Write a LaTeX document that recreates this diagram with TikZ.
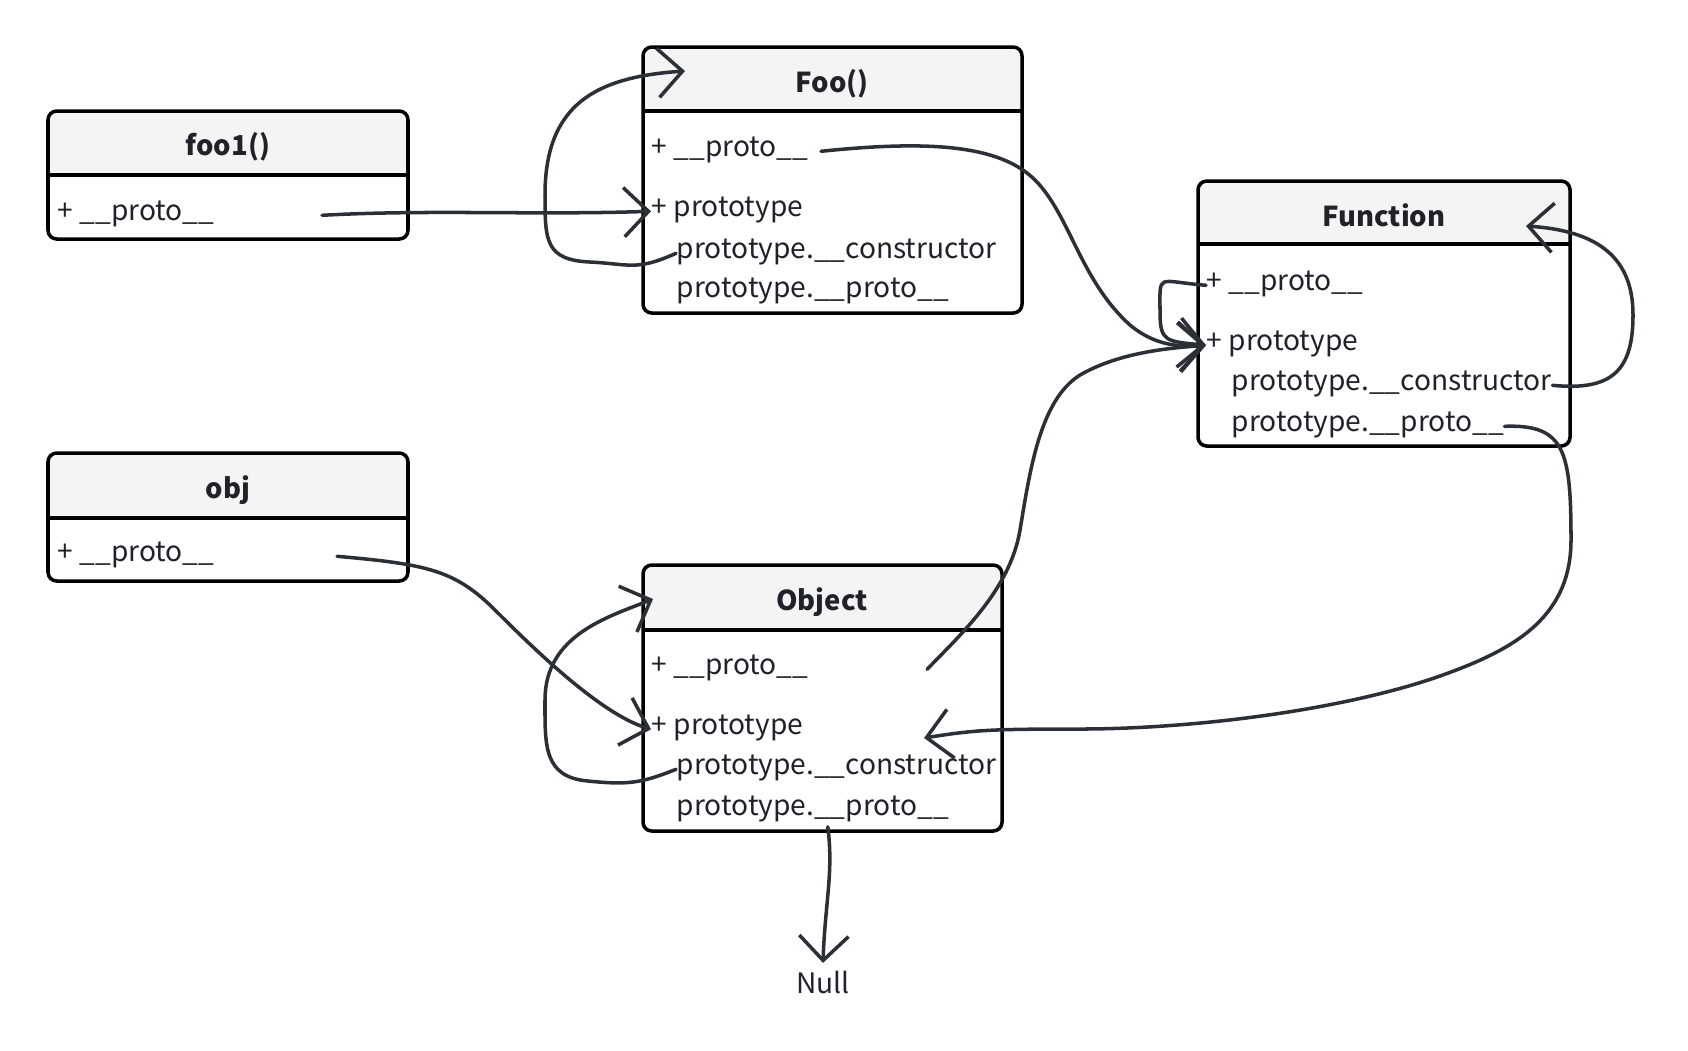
\documentclass[tikz,border=0pt]{standalone}
\usepackage{fontspec}
\setmainfont{Noto Sans CJK SC}
\usepackage{tikz}
\usetikzlibrary{arrows.meta, calc, positioning}
\definecolor{inkline}{HTML}{2B2F36}
\definecolor{headgray}{HTML}{F4F4F4}
\definecolor{textdark}{HTML}{1F2329}
\tikzset{
    boxline/.style={draw=black, line width=1pt, rounded corners=2.5pt},
    divider/.style={draw=black, line width=1pt},
    title/.style={yshift=-0.5pt, font=\fontsize{7.8}{10}\selectfont\bfseries, text=textdark, inner sep=0pt},
    row/.style={anchor=west, yshift=-1.5pt, font=\fontsize{8}{10}\selectfont, text=textdark, inner sep=0pt, text height=6pt, text depth=3pt},
    link/.style={draw=inkline, line width=1pt, line cap=round, -{Straight Barb[length=7pt, width=14pt, line width=1pt]}}
}
% riquadro di classe: x1, y1, x2, y2, y della riga di separazione
\newcommand{\classbox}[5]{%
    \begin{scope}
        \clip[rounded corners=2.5pt] (#1,#2) rectangle (#3,#4);
        \fill[headgray] (#1,#2) rectangle (#3,#5);
    \end{scope}
    \draw[divider] (#1,#5) -- (#3,#5);
    \draw[boxline] (#1,#2) rectangle (#3,#4);
}

\begin{document}
\begin{tikzpicture}[x=0.01cm, y=-0.01cm]
        \useasboundingbox (0,0) rectangle (1688,1050);

        % -----------------------------------------------------------------
        % foo1()
        % -----------------------------------------------------------------
        \classbox{48}{111}{408}{239}{175}
        \node[title] (foo1title) at (228,145) {foo1()};
        \node[row] (foo1proto) at (57,210) {+ \_\_proto\_\_};

        % -----------------------------------------------------------------
        % Foo()
        % -----------------------------------------------------------------
        \classbox{643}{47}{1022}{313}{111}
        \node[title] (Footitle) at (832,82) {Foo()};
        \node[row] (Fooproto) at (651,146) {+ \_\_proto\_\_};
        \node[row] (Fooptype) at (651,206) {+ prototype};
        \node[row] (Fooctor) at (676,248) {prototype.\_\_constructor};
        \node[row] (Fooptproto) at (676,287) {prototype.\_\_proto\_\_};
        \coordinate (Foohook) at (685,71);

        % -----------------------------------------------------------------
        % Function
        % -----------------------------------------------------------------
        \classbox{1198}{181}{1570}{446}{244}
        \node[title] (functitle) at (1384,214) {Function};
        \node[row] (funcproto) at (1206,280) {+ \_\_proto\_\_};
        \node[row] (funcptype) at (1206,340) {+ prototype};
        \node[row] (funcctor) at (1231,380) {prototype.\_\_constructor};
        \node[row] (funcptproto) at (1231,421) {prototype.\_\_proto\_\_};
        \coordinate (funchook) at (1526,226);

        % -----------------------------------------------------------------
        % obj
        % -----------------------------------------------------------------
        \classbox{48}{453}{408}{581}{518}
        \node[title] (objtitle) at (228,488) {obj};
        \node[row] (objproto) at (57,551) {+ \_\_proto\_\_};

        % -----------------------------------------------------------------
        % Object
        % -----------------------------------------------------------------
        \classbox{643}{565}{1002}{831}{630}
        \node[title] (objecttitle) at (822,600) {Object};
        \node[row] (objectproto) at (651,664) {+ \_\_proto\_\_};
        \node[row] (objectptype) at (651,724) {+ prototype};
        \node[row] (objectctor) at (676,764) {prototype.\_\_constructor};
        \node[row] (objectptproto) at (676,805) {prototype.\_\_proto\_\_};
        \coordinate (objecthook) at (924,738);
        \coordinate (objectloop) at (653,599);

        \node[font=\fontsize{8}{10}\selectfont, text=textdark, inner sep=2pt] (null) at (823,982) {Null};

        % -----------------------------------------------------------------
        % COLLEGAMENTI
        % -----------------------------------------------------------------
        \draw[link] ([xshift=1.07cm]foo1proto.east) .. controls +(110,-6) and +(-120,4) .. (Fooptype.west);
        \draw[link] (Fooctor.west) .. controls +(-40,18) and +(40,2) .. (590,262)
            .. controls +(-45,-2) and +(0,45) .. (545,195)
            .. controls +(0,-90) and +(-90,6) .. (Foohook);
        \draw[link] ([xshift=0.12cm]Fooproto.east) .. controls (930,140) and (1000,145) .. (1035,180)
            .. controls (1070,215) and (1080,280) .. (1130,325)
            .. controls (1160,350) and (1190,346) .. (funcptype.west);
        \draw[link] (funcproto.west) .. controls +(-50,-4) and +(0,-40) .. (1160,312)
            .. controls +(0,30) and +(-40,-4) .. (funcptype.west);
        \draw[link] ([xshift=1.18cm]objectproto.east) .. controls (960,635) and (1010,590) .. (1020,530)
            .. controls (1030,470) and (1040,400) .. (1080,375)
            .. controls (1120,352) and (1170,348) .. (funcptype.west);
        \draw[link] (funcctor.east) .. controls +(60,6) and +(0,55) .. (1633,315)
            .. controls +(0,-55) and +(75,5) .. (funchook);
        \draw[link] (funcptproto.east) .. controls +(60,-2) and +(0,-90) .. (1571,540)
            .. controls +(0,80) and +(70,-25) .. (1440,676)
            .. controls +(-100,35) and +(110,0) .. (1080,729)
            .. controls +(-90,0) and +(50,-8) .. (objecthook);
        \draw[link] ([xshift=1.22cm]objproto.east) .. controls +(90,8) and +(-40,-40) .. (495,610)
            .. controls +(40,40) and +(-50,-15) .. (objectptype.west);
        \draw[link] (objectctor.west) .. controls +(-35,14) and +(40,4) .. (588,781)
            .. controls +(-45,-4) and +(0,45) .. (545,700)
            .. controls +(0,-65) and +(-45,18) .. (objectloop);
        \draw[link] ([xshift=0.15cm]objectptproto.south) .. controls +(6,45) and +(2,-60) .. (null.north);

\end{tikzpicture}
\end{document}
